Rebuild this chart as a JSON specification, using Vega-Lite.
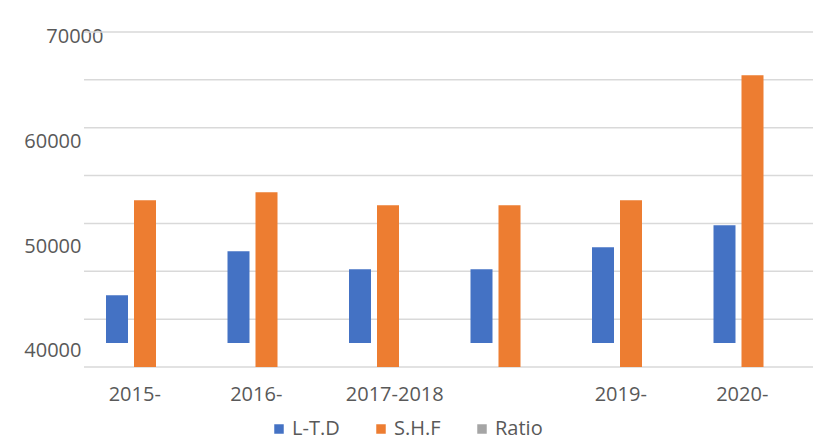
{
  "$schema": "https://vega.github.io/schema/vega-lite/v6.json",
  "width": 729,
  "height": 335,
  "autosize": {"type": "none"},
  "padding": {"left": 84, "top": 32, "right": 9, "bottom": 79},
  "background": "white",
  "config": {
    "font": "Open Sans",
    "view": {"stroke": null},
    "axis": {"labelColor": "#595959", "labelFontSize": 20, "labelFont": "Open Sans"}
  },
  "datasets": {
    "bars": [
      {"cat": "2015-", "series": "L-T.D", "low": 40745, "high": 45302},
      {"cat": "2015-", "series": "S.H.F", "low": 38452, "high": 54379},
      {"cat": "2016-", "series": "L-T.D", "low": 40745, "high": 49506},
      {"cat": "2016-", "series": "S.H.F", "low": 38452, "high": 55143},
      {"cat": "2017-2018", "series": "L-T.D", "low": 40745, "high": 47786},
      {"cat": "2017-2018", "series": "S.H.F", "low": 38452, "high": 53901},
      {"cat": " ", "series": "L-T.D", "low": 40745, "high": 47786},
      {"cat": " ", "series": "S.H.F", "low": 38452, "high": 53901},
      {"cat": "2019-", "series": "L-T.D", "low": 40745, "high": 49889},
      {"cat": "2019-", "series": "S.H.F", "low": 38452, "high": 54379},
      {"cat": "2020-", "series": "L-T.D", "low": 40745, "high": 51991},
      {"cat": "2020-", "series": "S.H.F", "low": 38452, "high": 66321}
    ],
    "grid": [
      {"g": 38452}, {"g": 43024}, {"g": 47597}, {"g": 52169},
      {"g": 56742}, {"g": 61314}, {"g": 65886}, {"g": 70459}
    ]
  },
  "encoding": {
    "y": {
      "type": "quantitative",
      "scale": {"domain": [38452, 70459], "nice": false, "zero": false},
      "axis": {
        "title": null, "grid": false, "domain": false, "ticks": false,
        "values": [40000, 50000, 60000, 70000], "format": "d",
        "labelPadding": {"condition": {"test": "datum.value == 70000", "value": -19}, "value": 3}
      }
    }
  },
  "layer": [
    {
      "data": {"name": "grid"},
      "mark": {"type": "rule", "color": "#D9D9D9", "strokeWidth": 1.5},
      "encoding": {
        "y": {"field": "g", "type": "quantitative"}
      }
    },
    {
      "data": {"name": "bars"},
      "mark": {"type": "bar"},
      "encoding": {
        "x": {
          "field": "cat", "type": "nominal", "sort": null,
          "scale": {"domain": ["2015-", "2016-", "2017-2018", " ", "2019-", "2020-"], "paddingInner": 0, "paddingOuter": 0},
          "axis": {
            "title": null, "domain": false, "ticks": false, "labelAngle": 0,
            "labelPadding": 17,
            "labelOffset": {"condition": {"test": "datum.value == '2017-2018'", "value": 7}, "value": -10}
          }
        },
        "xOffset": {
          "field": "series", "type": "nominal",
          "scale": {"domain": ["L-T.D", "S.H.F"], "range": [22, 72], "paddingInner": 0.2143, "paddingOuter": 0}
        },
        "y": {"field": "high", "type": "quantitative"},
        "y2": {"field": "low"},
        "color": {
          "field": "series", "type": "nominal",
          "scale": {"domain": ["L-T.D", "S.H.F", "Ratio"], "range": ["#4472C4", "#ED7D31", "#A5A5A5"]},
          "legend": {
            "title": null, "orient": "none", "direction": "horizontal",
            "legendX": 185, "legendY": 387,
            "symbolType": "square", "symbolSize": 90, "symbolStrokeWidth": 0,
            "labelFontSize": 20, "labelColor": "#595959", "labelFont": "Open Sans",
            "labelOffset": 3, "columnPadding": 31
          }
        }
      }
    }
  ]
}
